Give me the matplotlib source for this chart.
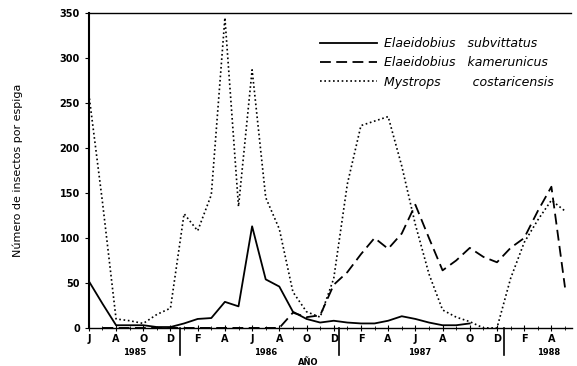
import numpy as np
import matplotlib
matplotlib.use("Agg")
import matplotlib.pyplot as plt
from matplotlib.transforms import blended_transform_factory

# monthly samples, June 1985 (index 0) to May 1988 (index 35)
months = np.arange(36)
nan = np.nan

subvittatus = [52, 27, 3, 3, 3, 1, 1, 5, 10, 11, 29, 24, 113, 54, 46, 18, 10, 6,
               8, 6, 5, 5, 8, 13, 10, 6, 3, 3, 5,
               nan, nan, nan, nan, nan, nan, nan]
kamerunicus = [nan, 0, 0, 0, 0, 0, 0, 0, 0, 0, 0, 0, 0, 0, 0, 17, 12, 14,
               48, 62, 82, 100, 88, 105, 137, 100, 64, 75, 89, 79, 73, 89, 100, 130, 157, 45]
costaricensis = [260, 140, 10, 8, 5, 15, 22, 127, 108, 148, 345, 135, 287, 145, 110, 40, 18, 12,
                 55, 160, 225, 230, 235, 180, 115, 60, 20, 12, 7, 0, 0, 55, 95, 120, 142, 130]

month_labels = ["J", "A", "O", "D",
                "F", "A", "J", "A", "O", "D",
                "F", "A", "J", "A", "O", "D",
                "F", "A"]
years = ["1985", "1986", "1987", "1988"]
year_pos = [3.4, 13.0, 24.3, 33.8]
year_breaks = [6.7, 18.4, 30.5]

fig = plt.figure(figsize=(5.77, 3.66), dpi=100)
ax = fig.add_axes([0.154, 0.104, 0.837, 0.860])

ax.plot(months, subvittatus, color="black", lw=1.3, ls="-",
        label="Elaeidobius   subvittatus")
ax.plot(months, kamerunicus, color="black", lw=1.3, ls=(0, (6, 3)),
        label="Elaeidobius   kamerunicus")
ax.plot(months, costaricensis, color="black", lw=1.2, ls=(0, (1, 1.6)),
        label="Mystrops        costaricensis")

ax.set_xlim(0, 35.5)
ax.set_ylim(0, 350)
ax.set_yticks(np.arange(0, 351, 50))
ax.set_xticks(np.arange(0, 36, 2))
ax.set_xticklabels(month_labels)
ax.set_xticks(months, minor=True)
ax.tick_params(axis="both", labelsize=7)
ax.tick_params(axis="x", direction="inout", length=5, pad=2)
ax.tick_params(axis="x", which="minor", direction="inout", length=3)
ax.tick_params(axis="y", direction="out", length=3)
for lab in ax.get_xticklabels() + ax.get_yticklabels():
    lab.set_fontweight("bold")

ax.spines["right"].set_visible(False)
ax.spines["left"].set_linewidth(1.5)
ax.spines["bottom"].set_linewidth(1.0)
ax.spines["top"].set_linewidth(1.0)
ax.spines["top"].set_linestyle((0, (3, 1)))

trans = blended_transform_factory(ax.transData, ax.transAxes)
for xb in year_breaks:
    ax.plot([xb, xb], [0, -0.085], color="black", lw=1.2, transform=trans, clip_on=False)
for yr, xp in zip(years, year_pos):
    ax.text(xp, -0.078, yr, transform=trans, ha="center", va="center",
            fontsize=6, fontweight="bold")
ax.text(16.1, -0.11, "AÑO", transform=trans, ha="center", va="center",
        fontsize=6, fontweight="bold")

ax.set_ylabel("Número de insectos por espiga", fontsize=8, labelpad=26)

leg = ax.legend(loc="upper left", bbox_to_anchor=(0.455, 0.96), frameon=False,
                handlelength=4.6, handletextpad=0.5, labelspacing=0.5,
                prop={"style": "italic", "size": 9})

fig.savefig("out.png", dpi=100)
